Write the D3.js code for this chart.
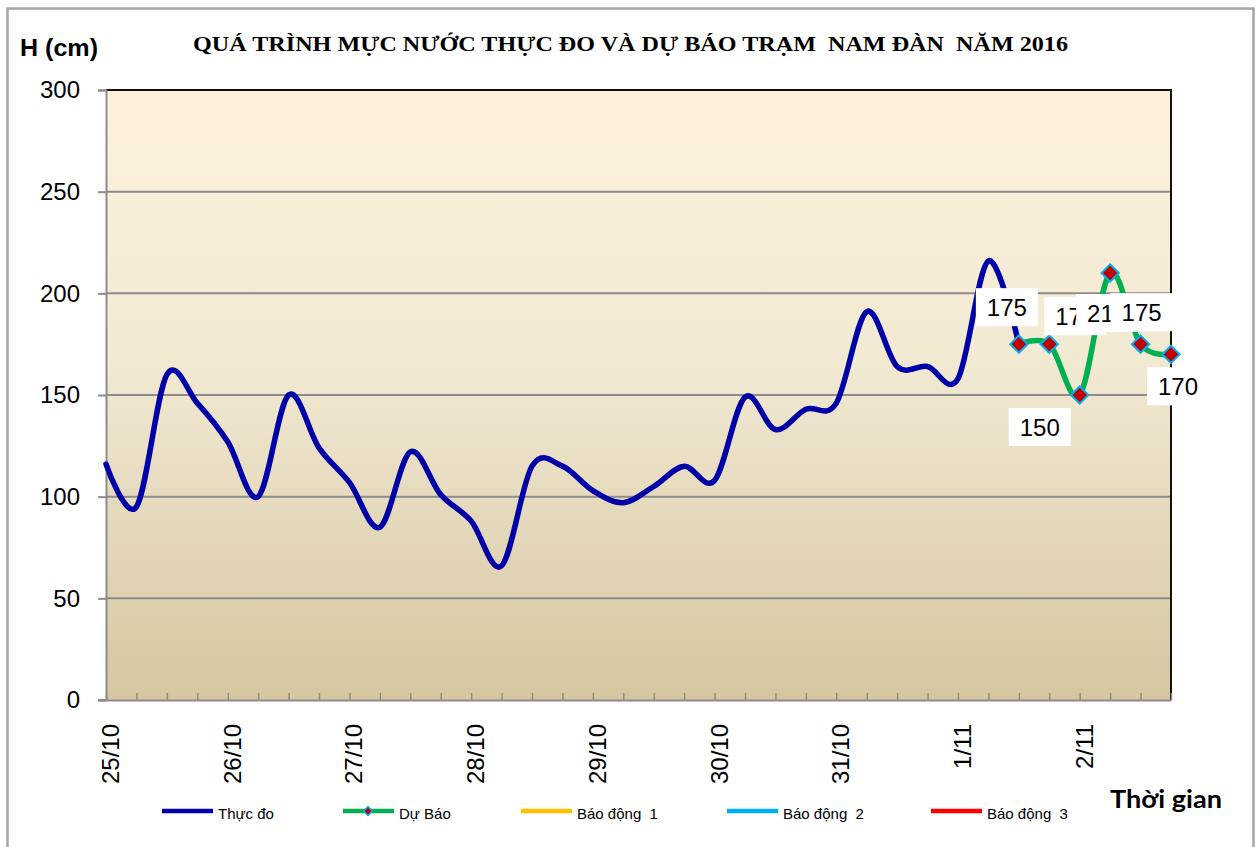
<!DOCTYPE html>
<html>
<head>
<meta charset="utf-8">
<script src="https://cdn.jsdelivr.net/npm/d3@7"></script>
<style>
  body { margin: 0; background: #fff; }
  svg { display: block; }
</style>
</head>
<body>
<svg id="chart" width="1259" height="847"></svg>
<script>
// categories: 4 readings a day, 25/10 .. 2/11
const days = ["25/10", "26/10", "27/10", "28/10", "29/10", "30/10", "31/10", "1/11", "2/11"];
const hours = ["1h", "7h", "13h", "19h"];
const categories = [];
days.forEach(function (d) { hours.forEach(function (h) { categories.push(d + " " + h); }); });

// Thực đo (measured), from 25/10 1h
const measured = [116, 95, 160, 146, 127, 100, 150, 124, 107, 85, 122, 101, 88, 66, 115, 115,
                  103, 97, 105, 115, 108, 149, 133, 143, 146, 191, 164, 164, 158, 216, 175];
// Dự Báo (forecast), starting where measured ends
const forecast = [175, 175, 150, 210, 175, 170];
const forecastStart = 30;

const yTicks = [0, 50, 100, 150, 200, 250, 300];

const legendItems = [
  { name: "Thực đo", color: "#0000a8", marker: false },
  { name: "Dự Báo", color: "#00b050", marker: true },
  { name: "Báo động  1", color: "#ffc000", marker: false },
  { name: "Báo động  2", color: "#00b0f0", marker: false },
  { name: "Báo động  3", color: "#ff0000", marker: false }
];

// where each forecast label sits relative to its point (moved by hand in the original)
const labelOffsets = [[-12, -37], [26, -28], [-40, 32], [-3, 40], [1, -32], [7, 32]];

const svg = d3.select("#chart");
const plotL = 106, plotR = 1171, plotT = 90, plotB = 700;

const x = d3.scalePoint().domain(categories).range([plotL, plotR]);
const y = d3.scaleLinear().domain([0, 300]).range([plotB, plotT]);

// outer frame
svg.append("rect")
  .attr("x", 7.5).attr("y", 8.5).attr("width", 1246).attr("height", 860)
  .attr("fill", "#fff").attr("stroke", "#a6a6a6").attr("stroke-width", 2.5);

// plot background gradient
const grad = svg.append("defs").append("linearGradient")
  .attr("id", "bg").attr("x1", 0).attr("y1", 0).attr("x2", 0).attr("y2", 1);
grad.append("stop").attr("offset", "0%").attr("stop-color", "#fdf1dc");
grad.append("stop").attr("offset", "45%").attr("stop-color", "#f2e9d3");
grad.append("stop").attr("offset", "100%").attr("stop-color", "#d5c6a0");

svg.append("rect")
  .attr("x", plotL).attr("y", plotT).attr("width", plotR - plotL).attr("height", plotB - plotT)
  .attr("fill", "url(#bg)");

// gridlines
svg.append("g").selectAll("line")
  .data(yTicks.filter(function (v) { return v > 0 && v < 300; }))
  .join("line")
  .attr("x1", plotL).attr("x2", plotR)
  .attr("y1", function (d) { return y(d); }).attr("y2", function (d) { return y(d); })
  .attr("stroke", "#8c8c8c").attr("stroke-width", 2);

// top + right border
svg.append("path")
  .attr("d", "M" + plotL + "," + plotT + "H" + plotR + "V" + plotB)
  .attr("fill", "none").attr("stroke", "#111").attr("stroke-width", 2);

// y axis
const yAxis = svg.append("g").attr("transform", "translate(" + plotL + ",0)")
  .call(d3.axisLeft(y).tickValues(yTicks).tickSize(8).tickPadding(18));
yAxis.select(".domain").attr("stroke", "#8c8c8c").attr("stroke-width", 2);
yAxis.selectAll(".tick line").attr("stroke", "#8c8c8c").attr("stroke-width", 2);
yAxis.selectAll("text")
  .attr("fill", "#000").style("font-family", "'Liberation Sans', Arial, sans-serif")
  .style("font-size", "24px");

// x axis: ticks at every reading pointing up, labels once a day
const xAxis = svg.append("g").attr("transform", "translate(0," + plotB + ")")
  .call(d3.axisBottom(x).tickSize(-7).tickSizeOuter(0)
    .tickFormat(function (d) { return d.endsWith(" 1h") ? d.split(" ")[0] : ""; }));
xAxis.select(".domain").attr("stroke", "#8c8c8c").attr("stroke-width", 2);
xAxis.selectAll(".tick line").attr("stroke", "#8c8c8c").attr("stroke-width", 1.5);
xAxis.selectAll("text")
  .attr("fill", "#000").style("font-family", "'Liberation Sans', Arial, sans-serif")
  .style("font-size", "24px")
  .attr("text-anchor", "end").attr("dy", null)
  .attr("dominant-baseline", "central")
  .attr("transform", "translate(4,24) rotate(-90)")
  .attr("x", 0).attr("y", 0);
// small left overhang at 0
svg.append("line").attr("x1", plotL - 8).attr("x2", plotL).attr("y1", plotB).attr("y2", plotB)
  .attr("stroke", "#8c8c8c").attr("stroke-width", 2);

const curve = d3.curveCatmullRom.alpha(0);

const lineMeasured = d3.line()
  .x(function (d, i) { return x(categories[i]); })
  .y(function (d) { return y(d); })
  .curve(curve);

const lineForecast = d3.line()
  .x(function (d, i) { return x(categories[forecastStart + i]); })
  .y(function (d) { return y(d); })
  .curve(curve);

svg.append("path").datum(measured)
  .attr("d", lineMeasured)
  .attr("fill", "none").attr("stroke", "#0000a8").attr("stroke-width", 5.5)
  .attr("stroke-linejoin", "round").attr("stroke-linecap", "round");

svg.append("path").datum(forecast)
  .attr("d", lineForecast)
  .attr("fill", "none").attr("stroke", "#00b050").attr("stroke-width", 5.5)
  .attr("stroke-linejoin", "round");

const diamond = d3.symbol().type(d3.symbolDiamond2).size(190);

svg.append("g").selectAll("path")
  .data(forecast)
  .join("path")
  .attr("d", diamond)
  .attr("transform", function (d, i) {
    return "translate(" + x(categories[forecastStart + i]) + "," + y(d) + ")";
  })
  .attr("fill", "#c00000").attr("stroke", "#00b0f0").attr("stroke-width", 2);

// data labels with white boxes
const labels = svg.append("g");
forecast.forEach(function (v, i) {
  const cx = x(categories[forecastStart + i]) + labelOffsets[i][0];
  const cy = y(v) + labelOffsets[i][1];
  const g = labels.append("g");
  g.append("rect")
    .attr("x", cx - 31).attr("y", cy - 19).attr("width", 62).attr("height", 38)
    .attr("fill", "#fff");
  g.append("text")
    .attr("x", cx).attr("y", cy + 9)
    .attr("text-anchor", "middle")
    .style("font-family", "'Liberation Sans', Arial, sans-serif").style("font-size", "24px")
    .text(v);
});

// titles
svg.append("text")
  .attr("x", 193).attr("y", 51)
  .attr("textLength", 875).attr("lengthAdjust", "spacingAndGlyphs")
  .style("font-family", "'Liberation Serif', 'Times New Roman', serif")
  .style("font-weight", "bold").style("font-size", "21px")
  .style("white-space", "pre")
  .text("QUÁ TRÌNH MỰC NƯỚC THỰC ĐO VÀ DỰ BÁO TRẠM  NAM ĐÀN  NĂM 2016");

svg.append("text")
  .attr("x", 20).attr("y", 56)
  .attr("textLength", 78).attr("lengthAdjust", "spacingAndGlyphs")
  .style("font-family", "'Liberation Sans', Arial, sans-serif")
  .style("font-weight", "bold").style("font-size", "24px")
  .text("H (cm)");

svg.append("text")
  .attr("x", 1110).attr("y", 808)
  .attr("textLength", 112).attr("lengthAdjust", "spacingAndGlyphs")
  .style("font-family", "Lato, 'Open Sans', sans-serif")
  .style("font-weight", "bold").style("font-size", "25px")
  .text("Thời gian");

// legend
const legendX = [162, 343, 521, 727, 931];
const legend = svg.append("g");
legendItems.forEach(function (item, i) {
  const lx = legendX[i];
  legend.append("line")
    .attr("x1", lx).attr("x2", lx + 51).attr("y1", 811).attr("y2", 811)
    .attr("stroke", item.color).attr("stroke-width", 4.5);
  if (item.marker) {
    legend.append("path")
      .attr("d", d3.symbol().type(d3.symbolDiamond2).size(50))
      .attr("transform", "translate(" + (lx + 25) + ",811)")
      .attr("fill", "#c00000").attr("stroke", "#00b0f0").attr("stroke-width", 1.5);
  }
  legend.append("text")
    .attr("x", lx + 56).attr("y", 819)
    .style("font-family", "'Liberation Sans', Arial, sans-serif").style("font-size", "15px")
    .style("white-space", "pre")
    .text(item.name);
});
</script>
</body>
</html>
